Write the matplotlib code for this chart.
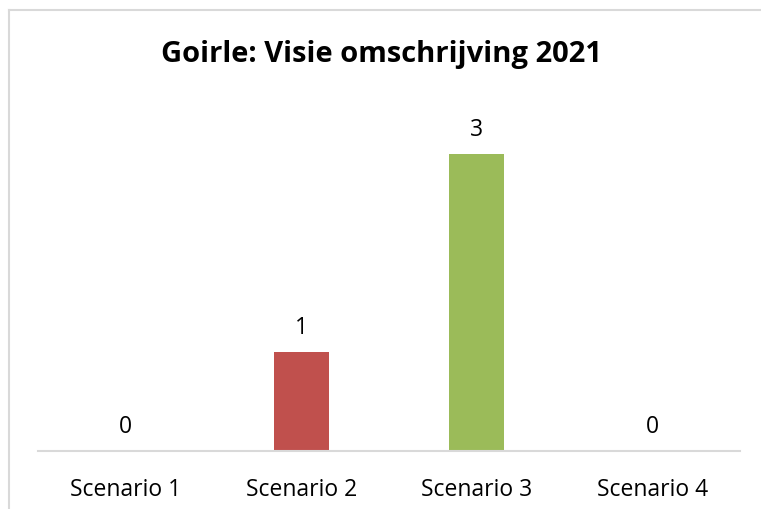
import matplotlib
matplotlib.use("Agg")
from matplotlib import pyplot as plt
from matplotlib.lines import Line2D

categories = ["Scenario 1", "Scenario 2", "Scenario 3", "Scenario 4"]
values = [0, 1, 3, 0]
colors = ["#4F81BD", "#C0504D", "#9BBB59", "#8064A2"]
title = "Goirle: Visie omschrijving 2021"

plt.rcParams['font.family'] = ['Open Sans', 'DejaVu Sans']

fig = plt.figure(figsize=(7.61, 5.10), dpi=100)
ax = fig.add_axes([38 / 761, 1 - 452 / 510, (740 - 38) / 761, (452 - 105.5) / 510])

x = list(range(len(categories)))
bars = ax.bar(x, values, width=0.315, color=colors)

# value labels above each bar
for xi, v in zip(x, values):
    ax.text(xi, v + 0.19, str(v), ha='center', va='baseline', fontsize=16.5, color='black')

ax.set_xlim(-0.5, len(categories) - 0.5)
ax.set_ylim(0, 3.5)
ax.set_xticks(x)
ax.set_xticklabels(categories, fontsize=16.5)
ax.tick_params(axis='x', length=0, pad=19)
ax.set_yticks([])
for s in ['top', 'right', 'left']:
    ax.spines[s].set_visible(False)
ax.spines['bottom'].set_color('#D9D9D9')
ax.spines['bottom'].set_linewidth(1.5)

fig.text(0.501, 1 - 62 / 510, title, ha='center', va='baseline',
         fontsize=21, fontweight='bold')

# chart frame (left and top edges only visible)
fy = 1 - 11 / 510
fx = 8.5 / 761
fig.add_artist(Line2D([fx, fx], [0, fy], transform=fig.transFigure, color='#D9D9D9', lw=1.5))
fig.add_artist(Line2D([fx, 1], [fy, fy], transform=fig.transFigure, color='#D9D9D9', lw=1.5))

fig.savefig("out.png", dpi=100)
